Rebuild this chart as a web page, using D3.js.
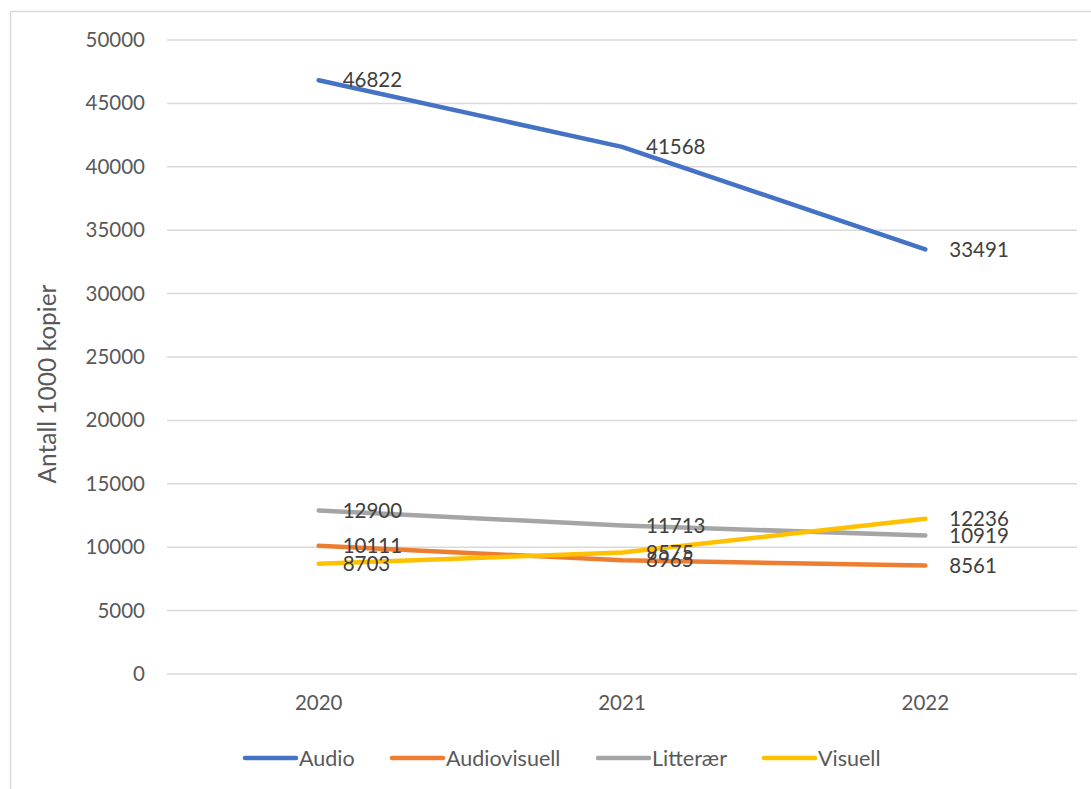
<!DOCTYPE html>
<html lang="no">
<head>
    <meta charset="UTF-8">
    <title>Antall 1000 kopier</title>
    <style>
        body { margin: 0; background: #fff; }
        text { font-family: Lato, "Open Sans", sans-serif; }
    </style>
</head>
<body>
    <script src="https://d3js.org/d3.v7.min.js"></script>
    <script>
        const years = ['2020', '2021', '2022'];
        const seriesNames = ['Audio', 'Audiovisuell', 'Litterær', 'Visuell'];
        const audio = [46822, 41568, 33491];
        const audiovisuell = [10111, 8965, 8561];
        const litteraer = [12900, 11713, 10919];
        const visuell = [8703, 9575, 12236];
        const yTicks = [0, 5000, 10000, 15000, 20000, 25000, 30000, 35000, 40000, 45000, 50000];
        const colors = ['#4472C4', '#ED7D31', '#A5A5A5', '#FFC000'];

        const series = [audio, audiovisuell, litteraer, visuell].map((vals, i) => ({
            name: seriesNames[i],
            color: colors[i],
            values: vals.map((v, j) => ({ year: years[j], value: v }))
        }));

        const width = 1091,
            height = 789,
            margin = { top: 40, right: 14, bottom: 115, left: 167 };

        const svg = d3.select('body').append('svg')
            .attr('width', width).attr('height', height);

        // outer chart border
        svg.append('rect')
            .attr('x', 10.5).attr('y', 11.5)
            .attr('width', 1100).attr('height', 800)
            .attr('fill', 'none')
            .attr('stroke', '#D9D9D9')
            .attr('stroke-width', 1.5);

        const x = d3.scaleBand()
            .domain(years)
            .range([margin.left, width - margin.right]);

        const y = d3.scaleLinear()
            .domain([0, 50000])
            .range([height - margin.bottom, margin.top]);

        // grid
        svg.append('g')
            .selectAll('line')
            .data(yTicks)
            .enter().append('line')
            .attr('x1', margin.left).attr('x2', width - margin.right)
            .attr('y1', d => y(d)).attr('y2', d => y(d))
            .attr('stroke', '#D9D9D9')
            .attr('stroke-width', 1.5);

        // y axis
        const yAxis = svg.append('g')
            .attr('transform', `translate(${margin.left - 22},0)`)
            .call(d3.axisLeft(y).tickValues(yTicks).tickSize(0).tickPadding(0).tickFormat(d3.format('d')));
        yAxis.select('.domain').remove();
        yAxis.selectAll('text')
            .attr('fill', '#595959')
            .style('font-size', '20.5px')
            .style('font-family', 'Lato, sans-serif');

        // x axis
        const xAxis = svg.append('g')
            .attr('transform', `translate(0,${height - margin.bottom})`)
            .call(d3.axisBottom(x).tickSize(0).tickPadding(21));
        xAxis.select('.domain').remove();
        xAxis.selectAll('text')
            .attr('fill', '#595959')
            .style('font-size', '20.5px')
            .style('font-family', 'Lato, sans-serif');

        // y axis title
        svg.append('text')
            .attr('transform', `translate(56,384) rotate(-90)`)
            .attr('text-anchor', 'middle')
            .attr('fill', '#595959')
            .style('font-size', '24.5px')
            .text('Antall 1000 kopier');

        const line = d3.line()
            .x(d => x(d.year) + x.bandwidth() / 2)
            .y(d => y(d.value));

        svg.append('g')
            .selectAll('path')
            .data(series)
            .enter().append('path')
            .attr('d', d => line(d.values))
            .attr('fill', 'none')
            .attr('stroke', d => d.color)
            .attr('stroke-width', 4.5)
            .attr('stroke-linecap', 'round')
            .attr('stroke-linejoin', 'round');

        // data labels
        const labels = svg.append('g');
        series.forEach(s => {
            labels.selectAll(null)
                .data(s.values)
                .enter().append('text')
                .attr('x', d => x(d.year) + x.bandwidth() / 2 + 24)
                .attr('y', d => y(d.value))
                .attr('dy', '0.35em')
                .attr('fill', '#404040')
                .style('font-size', '20.5px')
                .text(d => d.value);
        });

        // legend
        const legendX = [243, 390, 596, 762];
        const legend = svg.append('g')
            .selectAll('g')
            .data(series)
            .enter().append('g')
            .attr('transform', (d, i) => `translate(${legendX[i]},758)`);
        legend.append('line')
            .attr('x1', 2).attr('x2', 53)
            .attr('stroke', d => d.color)
            .attr('stroke-width', 4.5)
            .attr('stroke-linecap', 'round');
        legend.append('text')
            .attr('x', 56)
            .attr('dy', '0.35em')
            .attr('fill', '#595959')
            .style('font-size', '21.5px')
            .text(d => d.name);
    </script>
</body>
</html>
